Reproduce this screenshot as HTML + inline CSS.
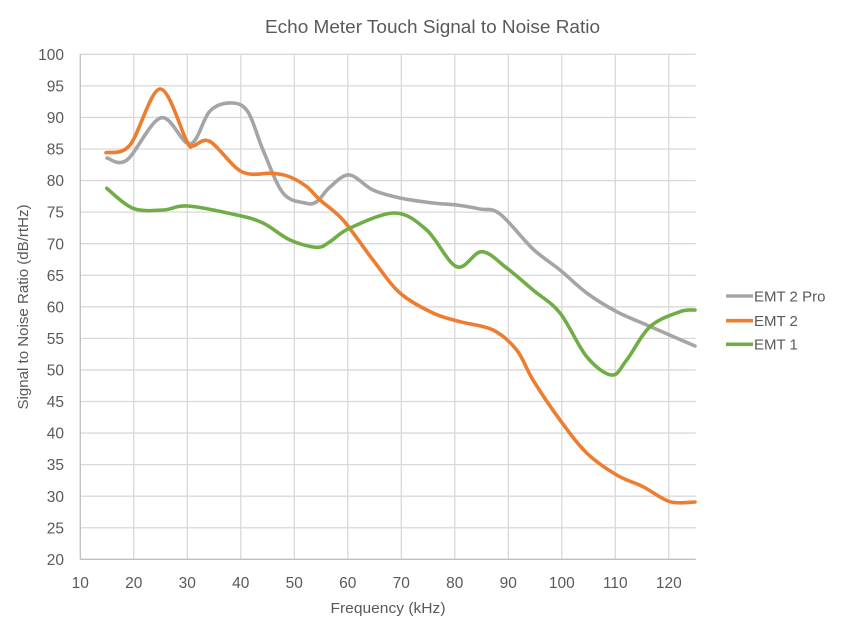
<!DOCTYPE html>
<html><head><meta charset="utf-8"><style>
html,body{margin:0;padding:0;background:#fff;}
svg{display:block;font-family:"Liberation Sans",Arial,sans-serif;}
</style></head><body>
<svg id="c" width="864" height="627" viewBox="0 0 864 627" xmlns="http://www.w3.org/2000/svg">
<rect width="864" height="627" fill="#fff"/>
<text x="432.5" y="33" text-anchor="middle" font-size="18" fill="#595959" textLength="335" lengthAdjust="spacingAndGlyphs">Echo Meter Touch Signal to Noise Ratio</text>
<g id="grid" stroke="#d9d9d9" stroke-width="1.3"></g>
<g id="ylab" font-size="15.5" fill="#595959" text-anchor="end"></g>
<g id="xlab" font-size="15.5" fill="#595959" text-anchor="middle"></g>
<line x1="80.3" y1="54.3" x2="80.3" y2="559.3" stroke="#bfbfbf" stroke-width="1.3"/>
<line x1="80.3" y1="559.3" x2="695.8" y2="559.3" stroke="#bfbfbf" stroke-width="1.3"/>
<g id="series" fill="none" stroke-width="3.6" stroke-linejoin="round" stroke-linecap="round"></g>
<text x="388" y="613" text-anchor="middle" font-size="15" fill="#595959" textLength="115" lengthAdjust="spacingAndGlyphs">Frequency (kHz)</text>
<text transform="translate(28,307) rotate(-90)" text-anchor="middle" font-size="15" fill="#595959" textLength="205" lengthAdjust="spacingAndGlyphs">Signal to Noise Ratio (dB/rtHz)</text>
<line x1="726" y1="296" x2="753" y2="296" stroke="#a5a5a5" stroke-width="3.6"/>
<line x1="726" y1="320.7" x2="753" y2="320.7" stroke="#ed7d31" stroke-width="3.6"/>
<line x1="726" y1="344.3" x2="753" y2="344.3" stroke="#70ad47" stroke-width="3.6"/>
<text x="754" y="301.5" font-size="15" fill="#595959">EMT 2 Pro</text>
<text x="754" y="326" font-size="15" fill="#595959">EMT 2</text>
<text x="754" y="349.6" font-size="15" fill="#595959">EMT 1</text>
</svg>
<script>
(function(){
var NS="http://www.w3.org/2000/svg";
function X(v){return 80.3+(v-10)*5.35;}
function Y(v){return 559.3-(v-20)*6.3125;}
var grid=document.getElementById('grid'),yl=document.getElementById('ylab'),xl=document.getElementById('xlab');
for(var v=25;v<=100;v+=5){var l=document.createElementNS(NS,'line');l.setAttribute('x1',80.3);l.setAttribute('x2',695.8);l.setAttribute('y1',Y(v));l.setAttribute('y2',Y(v));grid.appendChild(l);}
for(var v=20;v<=120;v+=10){var l=document.createElementNS(NS,'line');l.setAttribute('x1',X(v));l.setAttribute('x2',X(v));l.setAttribute('y1',54.3);l.setAttribute('y2',559.3);grid.appendChild(l);}
for(var v=20;v<=100;v+=5){var t=document.createElementNS(NS,'text');t.setAttribute('x',64);t.setAttribute('y',Y(v)+5.6);t.textContent=v;yl.appendChild(t);}
for(var v=10;v<=120;v+=10){var t=document.createElementNS(NS,'text');t.setAttribute('x',X(v));t.setAttribute('y',588);t.textContent=v;xl.appendChild(t);}
function cr(p){var d="M"+p[0][0]+","+p[0][1];for(var i=0;i<p.length-1;i++){var p0=p[i-1]||p[i],p1=p[i],p2=p[i+1],p3=p[i+2]||p[i+1];
var c1=[p1[0]+(p2[0]-p0[0])/6,p1[1]+(p2[1]-p0[1])/6],c2=[p2[0]-(p3[0]-p1[0])/6,p2[1]-(p3[1]-p1[1])/6];
d+=" C"+c1[0].toFixed(2)+","+c1[1].toFixed(2)+" "+c2[0].toFixed(2)+","+c2[1].toFixed(2)+" "+p2[0]+","+p2[1];}return d;}
var gray=[[107,158],[127,160],[161,117.7],[190,144],[210,111],[231.7,103],[248,112],[263,150],[283,193],[305,203],[316.7,201.7],[330,187],[349.3,175],[373,190],[400,198],[433,203],[456.7,205],[480,209],[500,214],[533,249],[560,270],[586.7,293],[616.7,311.7],[646.7,325],[695,346]];
var orange=[[106,152.7],[130,145],[160,89],[186.7,141],[193,146],[210,141.5],[241.7,171.7],[273,173.3],[290,177],[306.7,186.7],[320,200],[343,220],[373,260],[400,293],[433,313],[460,321.7],[493,330],[516.7,350],[533,380],[560,420],[586.7,453],[616.7,475],[643,486.7],[670,501.7],[695,502]];
var green=[[106.7,188.3],[133,208.3],[163,210],[188,206],[236.7,215],[263,223],[290,240],[316.7,247.3],[330,241.7],[350,228],[395,213],[426.7,230],[456.7,266.7],[481.7,251.7],[506.7,268],[533,290],[560,313],[586.7,356.7],[611.7,375],[626.7,360],[650,326.7],[680,311.7],[695,310]];
var s=document.getElementById('series');
[[gray,'#a5a5a5'],[orange,'#ed7d31'],[green,'#70ad47']].forEach(function(a){var p=document.createElementNS(NS,'path');p.setAttribute('d',cr(a[0]));p.setAttribute('stroke',a[1]);s.appendChild(p);});
})();
</script>
</body></html>
